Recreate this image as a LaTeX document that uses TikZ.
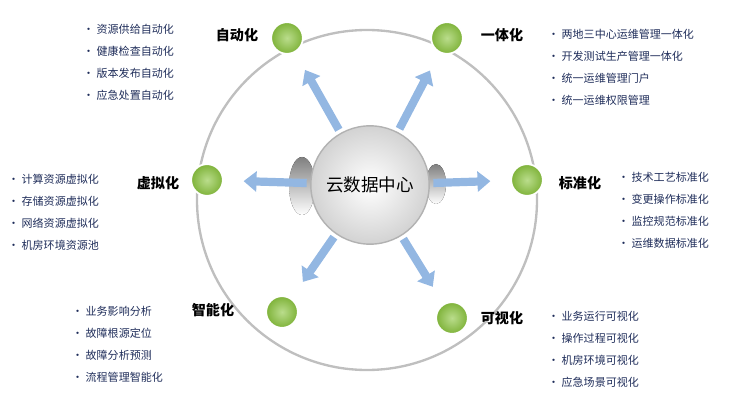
\documentclass[tikz,border=0pt]{standalone}
\usepackage{fontspec}
\setmainfont{Noto Sans CJK SC}
\usetikzlibrary{arrows.meta}
\definecolor{ring}{HTML}{BFBFBF}
\definecolor{leaf}{HTML}{8CC63F}
\definecolor{navy}{HTML}{1F2D5A}
\definecolor{flow}{HTML}{6F9FD8}
\definecolor{shade}{HTML}{4A5236}

\begin{document}
\begin{tikzpicture}[x=0.03cm, y=-0.03cm,
                    hub node/.style={circle,minimum size=3.55cm,inner sep=0pt,draw=gray!60,line width=1.2pt,
                      inner color=white,outer color=gray!35,font=\fontsize{15}{18}\selectfont},
                    main node/.style={circle,minimum size=0.95cm,inner sep=0pt,draw=white,line width=1.5pt,
                      inner color=leaf!60,outer color=leaf!90!black},
                    title/.style={font=\fontsize{12}{14}\selectfont\bfseries},
                    items/.style={anchor=north west,align=left,text=navy,inner sep=0pt,
                      font=\fontsize{9.4}{18.7}\selectfont},
                    flow arrow/.style={line width=7pt,flow!75,-{Triangle[length=11pt,width=17pt]},
                      shorten <=3pt,shorten >=17pt}]

  \useasboundingbox (0,0) rectangle (732,400);
  \draw[ring,line width=2pt] (367,200) circle (170*0.03cm);

  % shadows behind hub
  \fill[shade] (302,186) ellipse (13 and 29);
  \fill[shade] (436,184) ellipse (10 and 20);

  \node[main node] (1) at (287,38) {};
  \node[main node] (2) at (447,38) {};
  \node[main node] (3) at (207,180) {};
  \node[main node] (4) at (527,180) {};
  \node[main node] (5) at (282,312) {};
  \node[main node] (6) at (452,318) {};

  \node[hub node] (hub) at (370,185) {云数据中心};

  \foreach \n in {1,...,6}
    \draw[flow arrow] (hub) -- (\n);

  \node[title] (t1) at (237,35) {自动化};
  \node[title] (t2) at (502,35) {一体化};
  \node[title] (t3) at (158,183) {虚拟化};
  \node[title] (t4) at (580,183) {标准化};
  \node[title] (t5) at (213,310) {智能化};
  \node[title] (t6) at (502,318) {可视化};

  \node[items] (l1) at (83,24) {• 资源供给自动化\\• 健康检查自动化\\• 版本发布自动化\\• 应急处置自动化};
  \node[items] (l2) at (548,29) {• 两地三中心运维管理一体化\\• 开发测试生产管理一体化\\• 统一运维管理门户\\• 统一运维权限管理};
  \node[items] (l3) at (8,174) {• 计算资源虚拟化\\• 存储资源虚拟化\\• 网络资源虚拟化\\• 机房环境资源池};
  \node[items] (l4) at (618,172) {• 技术工艺标准化\\• 变更操作标准化\\• 监控规范标准化\\• 运维数据标准化};
  \node[items] (l5) at (72,306) {• 业务影响分析\\• 故障根源定位\\• 故障分析预测\\• 流程管理智能化};
  \node[items] (l6) at (548,311) {• 业务运行可视化\\• 操作过程可视化\\• 机房环境可视化\\• 应急场景可视化};
\end{tikzpicture}
\end{document}
